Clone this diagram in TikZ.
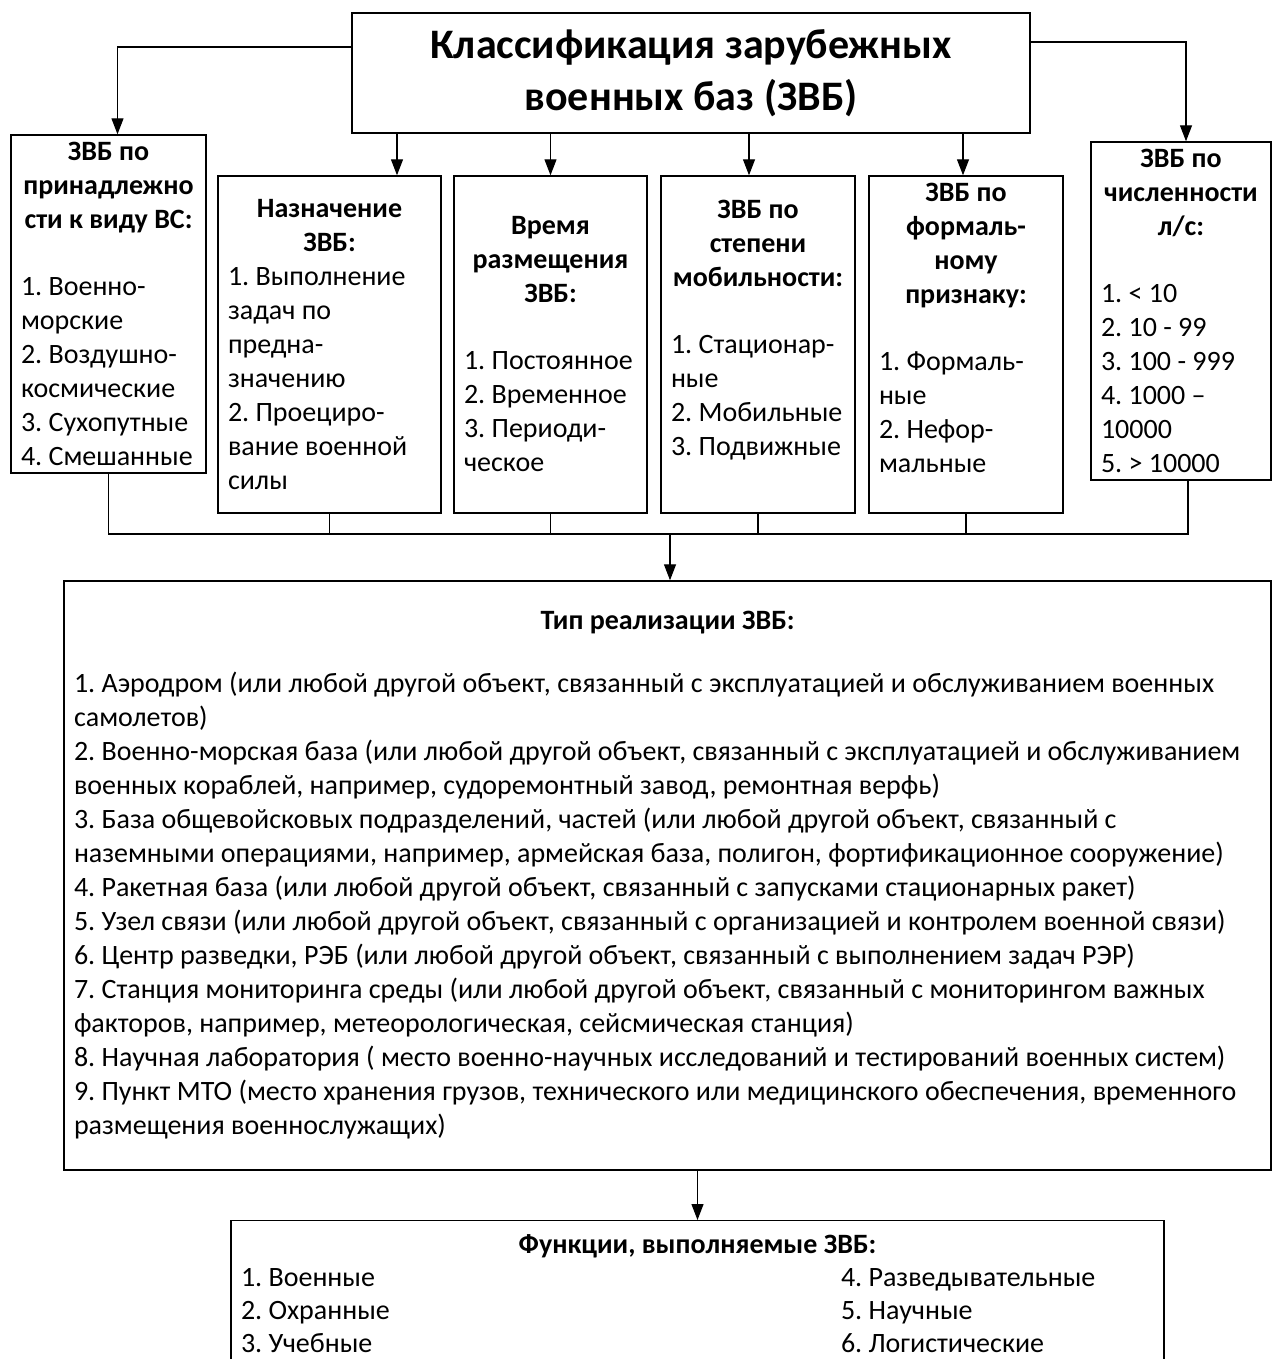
\documentclass[tikz,border=0pt]{standalone}
\usepackage{fontspec}
\setmainfont{Carlito}
\usetikzlibrary{arrows.meta}
\setlength{\parindent}{0pt}
\frenchspacing

\begin{document}
\begin{tikzpicture}[x=1pt, y=-1pt, >={Triangle[length=16pt,width=12pt]},
    box/.style={draw, line width=1.4pt, inner xsep=10pt, inner ysep=0pt, align=left,
      font=\fontsize{28}{34}\selectfont},
    link/.style={line width=1.2pt}]
            % Frame of the page
            \useasboundingbox (0,0) rectangle (1274,1359);

            % Title
            \node[box, align=center, font=\fontsize{42}{52}\selectfont\bfseries,
              minimum width=678pt, minimum height=120pt] (title) at (691,73)
              {Классификация зарубежных\\военных баз (ЗВБ)};

            % Classification boxes
            \node[box, minimum width=195pt, minimum height=338pt] (own) at (108.5,304)
              {\parbox[b]{175pt}{\centering\bfseries ЗВБ по\\принадлежно\\сти к виду ВС:}\\[33pt]
               1. Военно-\\морские\\2. Воздушно-\\космические\\3. Сухопутные\\4. Смешанные};
            \node[box, minimum width=223pt, minimum height=337pt] (task) at (329.5,344.5)
              {\parbox[b]{203pt}{\centering\bfseries Назначение\\ЗВБ:}\\
               1. Выполнение\\задач по\\предна-\\значению\\2. Проециро-\\вание военной\\силы};
            \node[box, minimum width=193pt, minimum height=337pt] (time) at (550.5,344.5)
              {\parbox[b]{173pt}{\centering\bfseries Время\\размещения\\ЗВБ:}\\[33pt]
               1. Постоянное\\2. Временное\\3. Периоди-\\ческое};
            \node[box, minimum width=194pt, minimum height=337pt] (mob) at (758,344.5)
              {\parbox[b]{174pt}{\centering\bfseries ЗВБ по\\степени\\мобильности:}\\[33pt]
               1. Стационар-\\ные\\2. Мобильные\\3. Подвижные\\ \mbox{}};
            \node[box, minimum width=194pt, minimum height=337pt] (form) at (966,344.5)
              {\parbox[b]{174pt}{\centering\bfseries ЗВБ по\\формаль-\\ному\\признаку:}\\[33pt]
               1. Формаль-\\ные\\2. Нефор-\\мальные\\ \mbox{}};
            \node[box, minimum width=180pt, minimum height=338pt] (staff) at (1181,311)
              {\parbox[b]{160pt}{\centering\bfseries ЗВБ по\\численности\\л/с:}\\[33pt]
               1. < 10\\2. 10 - 99\\3. 100 - 999\\4. 1000 –\\10000\\5. > 10000};

            % Type of base
            \node[box, minimum width=1207pt, minimum height=589pt] (kind) at (667.5,875.5)
              {\makebox[1187pt]{\bfseries Тип реализации ЗВБ:}\\[29pt]
               1. Аэродром (или любой другой объект, связанный с эксплуатацией и обслуживанием военных\\
               самолетов)\\
               2. Военно-морская база (или любой другой объект, связанный с эксплуатацией и обслуживанием\\
               военных кораблей, например, судоремонтный завод, ремонтная верфь)\\
               3. База общевойсковых подразделений, частей  (или любой другой объект, связанный с\\
               наземными операциями, например, армейская база, полигон, фортификационное сооружение)\\
               4. Ракетная база (или любой другой объект, связанный с запусками стационарных ракет)\\
               5. Узел связи (или любой другой объект, связанный с организацией и контролем военной связи)\\
               6. Центр разведки, РЭБ (или любой другой объект, связанный с выполнением задач РЭР)\\
               7. Станция мониторинга среды (или любой другой объект, связанный с мониторингом важных\\
               факторов, например, метеорологическая, сейсмическая станция)\\
               8. Научная лаборатория ( место военно-научных исследований и тестирований военных систем)\\
               9. Пункт МТО (место хранения грузов, технического или медицинского обеспечения, временного\\
               размещения военнослужащих)};

            % Functions
            \node[box, anchor=north, inner ysep=14pt, minimum width=933pt,
              font=\fontsize{28}{33}\selectfont] (func) at (697.5,1220)
              {\makebox[913pt]{\bfseries Функции, выполняемые ЗВБ:}\\
               \makebox[600pt][l]{1. Военные}4. Разведывательные\\
               \makebox[600pt][l]{2. Охранные}5. Научные\\
               \makebox[600pt][l]{3. Учебные}6. Логистические};

            % Arrows from the title
            \draw[link,->] ([yshift=26pt]title.west) -| ([xshift=9pt]own.north);
            \draw[link,->] ([yshift=31pt]title.east) -| ([xshift=5pt]staff.north);
            \draw[link,->] ([xshift=67.5pt]task.north |- title.south) -- ([xshift=67.5pt]task.north);
            \draw[link,->] (time.north |- title.south) -- (time.north);
            \draw[link,->] ([xshift=-9pt]mob.north |- title.south) -- ([xshift=-9pt]mob.north);
            \draw[link,->] ([xshift=-3pt]form.north |- title.south) -- ([xshift=-3pt]form.north);

            % Common line
            \coordinate (bus) at (670,534);
            \draw[link, line width=1.6pt] (own.south) |- (bus) -| ([xshift=7pt]staff.south);
            \foreach \b in {task,time,mob,form}
              \draw[link] (\b.south) -- (\b.south |- bus);
            \draw[link,->] (bus) -- (bus |- kind.north);
            \draw[link,->] (kind.south -| func.north) -- (func.north);
        \end{tikzpicture}
\end{document}
